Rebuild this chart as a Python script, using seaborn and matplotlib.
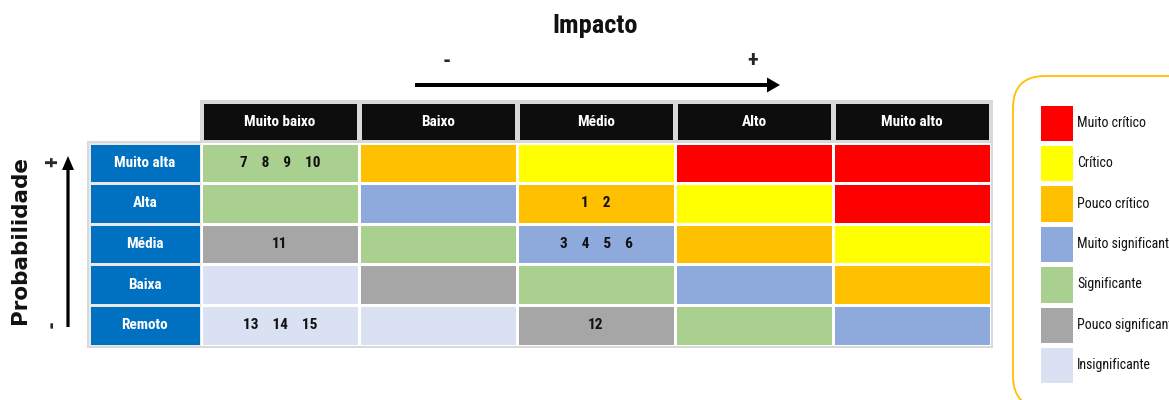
import numpy as np
import pandas as pd
import matplotlib
matplotlib.use("Agg")
import matplotlib.pyplot as plt
from matplotlib import font_manager
from matplotlib.colors import ListedColormap
from matplotlib.patches import Rectangle, FancyBboxPatch, FancyArrow
import seaborn as sns

# --- data -----------------------------------------------------------------
impact_levels = ["Muito baixo", "Baixo", "Médio", "Alto", "Muito alto"]
prob_levels = ["Muito alta", "Alta", "Média", "Baixa", "Remoto"]

legend_labels = ["Muito crítico", "Crítico", "Pouco crítico", "Muito significante",
                 "Significante", "Pouco significante", "Insignificante"]
legend_colors = ["#FF0000", "#FFFF00", "#FFC000", "#8EA9DB",
                 "#A9D08E", "#A6A6A6", "#D9E1F2"]

# risk class of each cell, rows = probability (high -> low), cols = impact (low -> high)
risk_matrix = [
    ["Significante", "Pouco crítico", "Crítico", "Muito crítico", "Muito crítico"],
    ["Significante", "Muito significante", "Pouco crítico", "Crítico", "Muito crítico"],
    ["Pouco significante", "Significante", "Muito significante", "Pouco crítico", "Crítico"],
    ["Insignificante", "Pouco significante", "Significante", "Muito significante", "Pouco crítico"],
    ["Insignificante", "Insignificante", "Pouco significante", "Significante", "Muito significante"],
]

# identified risks and where they fall in the matrix
risk_ids = [1, 2, 3, 4, 5, 6, 7, 8, 9, 10, 11, 12, 13, 14, 15]
risk_prob = ["Alta", "Alta", "Média", "Média", "Média", "Média",
             "Muito alta", "Muito alta", "Muito alta", "Muito alta",
             "Média", "Remoto", "Remoto", "Remoto", "Remoto"]
risk_impact = ["Médio", "Médio", "Médio", "Médio", "Médio", "Médio",
               "Muito baixo", "Muito baixo", "Muito baixo", "Muito baixo",
               "Muito baixo", "Médio", "Muito baixo", "Muito baixo", "Muito baixo"]

# --- fonts ----------------------------------------------------------------
sns.set_theme(style="white")
installed = {f.name for f in font_manager.fontManager.ttflist}
narrow = next((n for n in ["Roboto Condensed", "Liberation Sans Narrow", "Liberation Sans"]
               if n in installed), "DejaVu Sans")
plt.rcParams["font.family"] = [narrow, "DejaVu Sans"]

W, H = 1169, 400
fig = plt.figure(figsize=(W / 100, H / 100), dpi=100)
fig.patch.set_facecolor("white")

# background axes in pixel units for frames, arrows and titles
bg = fig.add_axes([0, 0, 1, 1])
bg.set_xlim(0, W)
bg.set_ylim(H, 0)
bg.axis("off")


def px_axes(x0, y0, x1, y1):
    return fig.add_axes([x0 / W, 1 - y1 / H, (x1 - x0) / W, (y1 - y0) / H])


# grey frames behind the table
bg.add_patch(Rectangle((86.5, 140.5), 993 - 86.5, 347.5 - 140.5, color="#D9D9D9", lw=0))
bg.add_patch(Rectangle((199.5, 100), 993 - 199.5, 143 - 100, color="#D9D9D9", lw=0))

# --- main risk matrix -----------------------------------------------------
codes = pd.DataFrame([[legend_labels.index(c) for c in row] for row in risk_matrix],
                     index=prob_levels, columns=impact_levels)

cell_ids = {(p, i): [] for p in prob_levels for i in impact_levels}
for rid, p, i in zip(risk_ids, risk_prob, risk_impact):
    cell_ids[(p, i)].append(str(rid))
annot = np.array([["    ".join(cell_ids[(p, i)]) for i in impact_levels] for p in prob_levels])

ax = px_axes(201, 142.5, 991, 345.5)
sns.heatmap(codes, ax=ax, cmap=ListedColormap(legend_colors), vmin=-0.5, vmax=6.5,
            cbar=False, annot=annot, fmt="", linewidths=1.8, linecolor="white",
            xticklabels=False, yticklabels=False,
            annot_kws={"fontsize": 11, "fontweight": "bold", "color": "#111111"})
ax.axis("off")

# --- header (impact levels) -----------------------------------------------
axh = px_axes(201, 101.5, 991, 142)
sns.heatmap(pd.DataFrame([np.zeros(len(impact_levels))], columns=impact_levels), ax=axh,
            cmap=ListedColormap(["#0D0D0D"]), cbar=False,
            annot=np.array([impact_levels]), fmt="", linewidths=2.2, linecolor="#D9D9D9",
            xticklabels=False, yticklabels=False,
            annot_kws={"fontsize": 11, "fontweight": "bold", "color": "white"})
axh.axis("off")

# --- row labels (probability levels) --------------------------------------
axr = px_axes(88.5, 142.5, 201, 345.5)
sns.heatmap(pd.DataFrame(np.zeros((len(prob_levels), 1)), index=prob_levels), ax=axr,
            cmap=ListedColormap(["#0070C0"]), cbar=False,
            annot=np.array(prob_levels).reshape(-1, 1), fmt="", linewidths=1.8,
            linecolor="#E8E8E8", xticklabels=False, yticklabels=False,
            annot_kws={"fontsize": 11, "fontweight": "bold", "color": "white"})
axr.axis("off")

# --- axis titles and arrows -----------------------------------------------
bg.text(595, 26, "Impacto", ha="center", va="center", fontsize=19, fontweight="bold",
        color="#111111")
bg.add_patch(FancyArrow(415, 85, 365, 0, width=4, head_width=15, head_length=13,
                        length_includes_head=True, color="black", lw=0))
bg.text(447, 62, "-", ha="center", va="center", fontsize=16, fontweight="bold")
bg.text(753, 61, "+", ha="center", va="center", fontsize=16, fontweight="bold")

bg.text(20, 240, "Probabilidade", ha="center", va="center", rotation=90, fontsize=15.5,
        fontweight="bold", family="DejaVu Sans", color="#111111")
bg.add_patch(FancyArrow(68, 327, 0, -171, width=3.2, head_width=12, head_length=14,
                        length_includes_head=True, color="black", lw=0))
bg.text(53, 162, "+", ha="center", va="center", rotation=90, fontsize=16, fontweight="bold")
bg.text(53, 324, "-", ha="center", va="center", rotation=90, fontsize=16, fontweight="bold")

# --- legend ---------------------------------------------------------------
bg.add_patch(FancyBboxPatch((1013, 76), 260, 332,
                            boxstyle="round,pad=0,rounding_size=32",
                            fc="white", ec="#FFC000", lw=1.3))
axl = px_axes(1038, 102.5, 1075, 385.5)
sns.heatmap(pd.DataFrame(np.arange(len(legend_labels)).reshape(-1, 1), index=legend_labels),
            ax=axl, cmap=ListedColormap(legend_colors), vmin=-0.5, vmax=6.5,
            cbar=False, linewidths=2.2, linecolor="white",
            xticklabels=False, yticklabels=False)
axl.axis("off")
step = (385.5 - 102.5) / len(legend_labels)
for k, lab in enumerate(legend_labels):
    bg.text(1077, 102.5 + step * (k + 0.5), lab, ha="left", va="center",
            fontsize=10, color="#111111")

fig.savefig("out.png", dpi=100)
